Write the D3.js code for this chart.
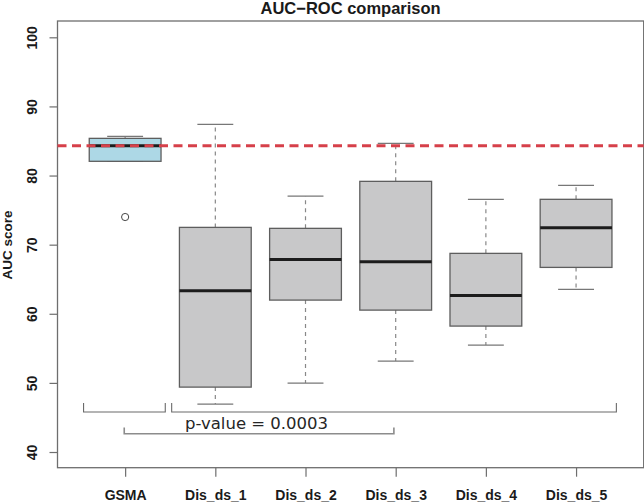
<!DOCTYPE html>
<html><head><meta charset="utf-8">
<script src="https://cdn.jsdelivr.net/npm/d3@7"></script>
<style>body{margin:0;background:#fff}svg{display:block}</style>
</head><body>
<svg id="chart" width="644" height="503"></svg>
<script>
const categories = ["GSMA","Dis_ds_1","Dis_ds_2","Dis_ds_3","Dis_ds_4","Dis_ds_5"];
const whiskerLow  = [82.06, 46.93, 49.97, 53.16, 55.47, 63.53];
const q1          = [82.06, 49.39, 61.98, 60.53, 58.22, 66.71];
const medians     = [84.31, 63.33, 67.87, 67.53, 62.66, 72.45];
const q3          = [85.38, 72.50, 72.36, 79.16, 68.74, 76.56];
const whiskerHigh = [85.67, 87.41, 77.03, 84.66, 76.56, 78.58];
const outliers    = [[74.0], [], [], [], [], []];
const boxFills    = ["#add8e6","#c8c8c9","#c8c8c9","#c8c8c9","#c8c8c9","#c8c8c9"];
const yTicks      = [40, 50, 60, 70, 80, 90, 100];
const referenceLine = 84.3;
const pLabel = "p-value = 0.0003";

const svg = d3.select("#chart");
const x = d3.scaleLinear().domain([0.25, 6.75]).range([57.5, 643.7]);
const y = d3.scaleLinear().domain([37.73, 102.36]).range([467.7, 21]);

// plot frame
svg.append("rect").attr("x", 57.5).attr("y", 21).attr("width", 643.7-57.5).attr("height", 467.7-21)
  .attr("fill","none").attr("stroke","#6e6e6e").attr("stroke-width",1.3);

// y axis
const yAxis = svg.append("g").attr("transform","translate(57.5,0)")
  .call(d3.axisLeft(y).tickValues(yTicks).tickSize(8).tickFormat(d3.format("d")));
yAxis.select(".domain").remove();
yAxis.selectAll(".tick line").attr("stroke","#6e6e6e").attr("stroke-width",1.2);
yAxis.selectAll(".tick text")
  .attr("transform","rotate(-90)").attr("x",0).attr("y",-20.5).attr("dy",null)
  .attr("text-anchor","middle").attr("fill","#1a1a1a")
  .style("font-family","'Liberation Sans', Arial, sans-serif").style("font-weight","bold").style("font-size","14px");

// x axis
const xAxis = svg.append("g").attr("transform","translate(0,467.7)")
  .call(d3.axisBottom(x).tickValues(d3.range(1, categories.length+1)).tickSize(9).tickFormat(i => categories[i-1]));
xAxis.select(".domain").remove();
xAxis.selectAll(".tick line").attr("stroke","#6e6e6e").attr("stroke-width",1.2);
xAxis.selectAll(".tick text").attr("y",32.6).attr("dy",null).attr("fill","#1a1a1a")
  .style("font-family","'Liberation Sans', Arial, sans-serif").style("font-weight","bold").style("font-size","14px");

// boxes
const boxHalf = 0.398, capHalf = 0.199;
const g = svg.append("g");
categories.forEach((c, i) => {
  const cx = i + 1;
  // whiskers
  g.append("line").attr("x1",x(cx)).attr("x2",x(cx)).attr("y1",y(q3[i])).attr("y2",y(whiskerHigh[i]))
    .attr("stroke","#888").attr("stroke-width",1.2).attr("stroke-dasharray","4,4");
  g.append("line").attr("x1",x(cx)).attr("x2",x(cx)).attr("y1",y(q1[i])).attr("y2",y(whiskerLow[i]))
    .attr("stroke","#888").attr("stroke-width",1.2).attr("stroke-dasharray","4,4");
  g.append("line").attr("x1",x(cx-capHalf)).attr("x2",x(cx+capHalf)).attr("y1",y(whiskerHigh[i])).attr("y2",y(whiskerHigh[i]))
    .attr("stroke","#777").attr("stroke-width",1.2);
  g.append("line").attr("x1",x(cx-capHalf)).attr("x2",x(cx+capHalf)).attr("y1",y(whiskerLow[i])).attr("y2",y(whiskerLow[i]))
    .attr("stroke","#777").attr("stroke-width",1.2);
  g.append("rect").attr("x",x(cx-boxHalf)).attr("width",x(cx+boxHalf)-x(cx-boxHalf))
    .attr("y",y(q3[i])).attr("height",y(q1[i])-y(q3[i]))
    .attr("fill",boxFills[i]).attr("stroke","#5e5e5e").attr("stroke-width",1.3);
  g.append("line").attr("x1",x(cx-boxHalf)).attr("x2",x(cx+boxHalf)).attr("y1",y(medians[i])).attr("y2",y(medians[i]))
    .attr("stroke","#1c1c1c").attr("stroke-width",3);
  outliers[i].forEach(v => {
    g.append("circle").attr("cx",x(cx)).attr("cy",y(v)).attr("r",3.6)
      .attr("fill","none").attr("stroke","#444").attr("stroke-width",1);
  });
});

// reference line
svg.append("line").attr("x1",x(0.25)).attr("x2",x(6.75)).attr("y1",y(referenceLine)).attr("y2",y(referenceLine))
  .attr("stroke","#d6404a").attr("stroke-width",3).attr("stroke-dasharray","9,5.5");

// comparison brackets (data units)
const brackets = [
  {x1:0.539, x2:1.445, yLine:45.78, yTick:47.1, color:"#6a6a6a", w:1.1},
  {x1:1.516, x2:6.447, yLine:45.78, yTick:47.1, color:"#6a6a6a", w:1.1},
  {x1:0.99,  x2:3.98,  yLine:42.64, yTick:43.56, color:"#8c8c8c", w:1.6}
];
brackets.forEach(b => {
  const p = d3.path();
  p.moveTo(x(b.x1), y(b.yTick)); p.lineTo(x(b.x1), y(b.yLine));
  p.lineTo(x(b.x2), y(b.yLine)); p.lineTo(x(b.x2), y(b.yTick));
  svg.append("path").attr("d", p.toString()).attr("fill","none").attr("stroke",b.color).attr("stroke-width",b.w);
});
svg.append("text").attr("x",185).attr("y",428.5).text(pLabel)
  .attr("fill","#262626").style("font-family","'DejaVu Sans', sans-serif").style("font-size","16.5px");

// title
svg.append("text").attr("x",350.6).attr("y",13.5).attr("text-anchor","middle").text("AUC\u2212ROC comparison")
  .attr("fill","#1a1a1a").style("font-family","'Liberation Sans', Arial, sans-serif").style("font-weight","bold").style("font-size","16.5px");

// y label
svg.append("text").attr("transform","translate(11.7,245) rotate(-90)").attr("text-anchor","middle").text("AUC score")
  .attr("fill","#1a1a1a").style("font-family","'Liberation Sans', Arial, sans-serif").style("font-weight","bold").style("font-size","13.5px");
</script>
</body></html>
